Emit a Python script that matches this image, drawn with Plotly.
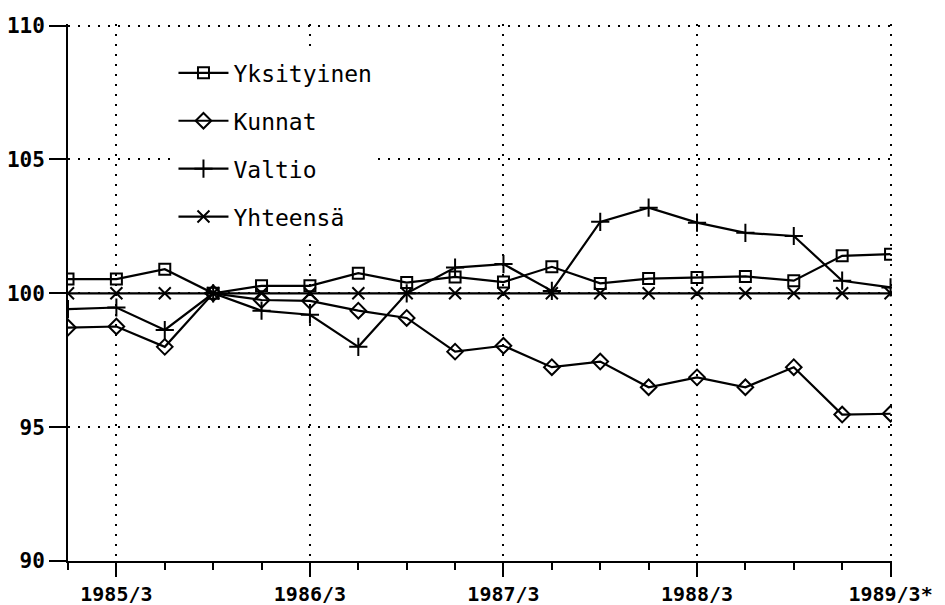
import plotly.graph_objects as go

quarters = ["1985/2", "1985/3", "1985/4", "1986/1", "1986/2", "1986/3", "1986/4",
            "1987/1", "1987/2", "1987/3", "1987/4", "1988/1", "1988/2", "1988/3",
            "1988/4", "1989/1", "1989/2", "1989/3"]

yksityinen = [100.53, 100.53, 100.9, 100.0, 100.28, 100.28, 100.75, 100.4, 100.61,
              100.42, 100.99, 100.37, 100.55, 100.59, 100.63, 100.47, 101.4, 101.46]
kunnat = [98.72, 98.76, 98.0, 100.0, 99.75, 99.72, 99.35, 99.08, 97.82, 98.04,
          97.24, 97.45, 96.49, 96.86, 96.49, 97.24, 95.47, 95.5]
valtio = [99.41, 99.47, 98.63, 100.0, 99.35, 99.2, 98.0, 100.0, 100.96, 101.09,
          100.09, 102.67, 103.2, 102.64, 102.26, 102.14, 100.47, 100.22]
yhteensa = [100.0] * 18

x_tick_labels = ["1985/3", "1986/3", "1987/3", "1988/3", "1989/3*"]
y_ticks = [90, 95, 100, 105, 110]

xi = list(range(len(quarters)))
x_tick_vals = [quarters.index(t.rstrip("*")) for t in x_tick_labels]

series = [
    ("Yksityinen", yksityinen, "square-open", 11),
    ("Kunnat", kunnat, "diamond-open", 12),
    ("Valtio", valtio, "cross-thin-open", 13),
    ("Yhteensä", yhteensa, "x-thin-open", 12),
]

fig = go.Figure()
for i, (name, vals, sym, sz) in enumerate(series):
    fig.add_trace(go.Scatter(
        x=xi, y=vals, name=name, mode="lines+markers",
        line=dict(color="black", width=2.2),
        marker=dict(symbol=sym, size=sz, color="black",
                    line=dict(color="black", width=2)),
        legendgroup=f"g{i}",
        hovertext=quarters,
    ))

mono = "DejaVu Sans Mono"
fig.update_layout(
    width=945, height=605,
    margin=dict(l=60, r=61, t=16, b=52),
    paper_bgcolor="white", plot_bgcolor="white",
    showlegend=True,
    legend=dict(
        x=0.128, y=0.949, xanchor="left", yanchor="top",
        bgcolor="white", borderwidth=0,
        font=dict(family=mono, size=23, color="black"),
        traceorder="grouped", tracegroupgap=15,
        itemwidth=50,
    ),
    xaxis=dict(
        range=[0, 17.03], automargin=False,
        tickmode="array", tickvals=x_tick_vals, ticktext=x_tick_labels,
        ticks="outside", ticklen=14, tickwidth=2, tickcolor="black",
        showline=True, linecolor="black", linewidth=2,
        showgrid=True, gridcolor="black", gridwidth=2, griddash="2px,8px",
        zeroline=False,
        tickfont=dict(family=mono, size=20, color="black", weight="bold"),
        ticklabelstandoff=0,
        minor=dict(tickmode="linear", tick0=0, dtick=1, ticks="outside",
                   ticklen=7, tickwidth=2, tickcolor="black", showgrid=False),
    ),
    yaxis=dict(
        range=[90, 110.06], automargin=False,
        tickmode="array", tickvals=y_ticks,
        ticks="outside", ticklen=17, tickwidth=2, tickcolor="black",
        showline=True, linecolor="black", linewidth=2,
        showgrid=True, gridcolor="black", gridwidth=2, griddash="2px,8px",
        zeroline=False,
        tickfont=dict(family=mono, size=21, color="black", weight="bold"),
        ticklabelstandoff=0,
    ),
)

fig.write_html("out.html")
